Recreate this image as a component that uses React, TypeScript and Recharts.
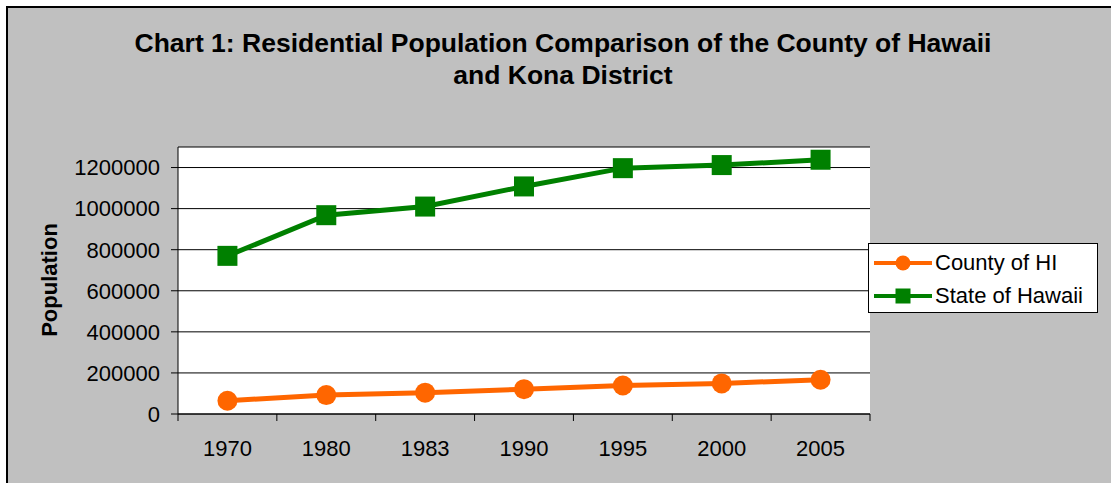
import { LineChart, Line, XAxis, YAxis, CartesianGrid } from "recharts";

const years = ["1970", "1980", "1983", "1990", "1995", "2000", "2005"];
const countyOfHI = [64500, 92000, 104000, 121000, 139000, 149000, 167000];
const stateOfHawaii = [770000, 968000, 1010000, 1108000, 1197000, 1212000, 1238000];
const yTicks = [0, 200000, 400000, 600000, 800000, 1000000, 1200000];

const data = years.map((year, i) => ({
  year,
  county: countyOfHI[i],
  state: stateOfHawaii[i],
}));

const FONT = "'Liberation Sans', Arial, sans-serif";
const ORANGE = "#FF6600";
const GREEN = "#008000";

const W = 1111;
const H = 483;
const PLOT_LEFT = 178;
const PLOT_RIGHT = 870;
const PLOT_TOP = 147;
const PLOT_BOTTOM = 414;
const HALF_BAND = (PLOT_RIGHT - PLOT_LEFT) / years.length / 2;

/** Category label centred in its band, tick marks on the band edges (Excel style). */
function YearTick(props: any) {
  const { x, y, payload, index } = props;
  const last = index === years.length - 1;
  return (
    <g>
      <line x1={x - HALF_BAND} y1={y} x2={x - HALF_BAND} y2={y + 7} stroke="#000" />
      {last && <line x1={x + HALF_BAND} y1={y} x2={x + HALF_BAND} y2={y + 7} stroke="#000" />}
      <text x={x} y={y + 42} textAnchor="middle" fontSize={22} fontFamily={FONT} fill="#000">
        {payload.value}
      </text>
    </g>
  );
}

function SquareDot(props: any) {
  const { cx, cy } = props;
  if (cx == null || cy == null) return null;
  return <rect x={cx - 10} y={cy - 10} width={20} height={20} fill={GREEN} />;
}

function CircleDot(props: any) {
  const { cx, cy } = props;
  if (cx == null || cy == null) return null;
  return <circle cx={cx} cy={cy} r={10} fill={ORANGE} />;
}

function LegendBox() {
  const items = [
    { name: "County of HI", color: ORANGE, shape: "circle" },
    { name: "State of Hawaii", color: GREEN, shape: "square" },
  ];
  return (
    <div
      style={{
        position: "absolute",
        left: 868,
        top: 243,
        width: 228,
        height: 68,
        background: "#fff",
        border: "1px solid #000",
        fontFamily: FONT,
        fontSize: 22,
        color: "#000",
      }}
    >
      {items.map((it, i) => (
        <div
          key={it.name}
          style={{ display: "flex", alignItems: "center", height: 33, marginTop: i === 0 ? 2 : 0 }}
        >
          <svg width={66} height={22} style={{ display: "block" }}>
            <line x1={5} y1={11} x2={63} y2={11} stroke={it.color} strokeWidth={4} />
            {it.shape === "circle" ? (
              <circle cx={34} cy={11} r={7.5} fill={it.color} />
            ) : (
              <rect x={26.5} y={3.5} width={15} height={15} fill={it.color} />
            )}
          </svg>
          <span style={{ lineHeight: "22px" }}>{it.name}</span>
        </div>
      ))}
    </div>
  );
}

export default function App() {
  return (
    <div
      style={{
        position: "absolute",
        left: 0,
        top: 0,
        width: W,
        height: H,
        background: "#fff",
        overflow: "hidden",
      }}
    >
      {/* chart area frame; right/bottom edges fall outside the picture */}
      <div
        style={{
          position: "absolute",
          left: 6,
          top: 6,
          width: 1300,
          height: 700,
          background: "#C0C0C0",
          border: "2px solid #000",
        }}
      />

      <div
        style={{
          position: "absolute",
          left: 0,
          top: 0,
          width: 1126,
          textAlign: "center",
          fontFamily: FONT,
          fontWeight: "bold",
          fontSize: 26.5,
          lineHeight: "32px",
          paddingTop: 27,
          color: "#000",
        }}
      >
        Chart 1: Residential Population Comparison of the County of Hawaii
        <br />
        and Kona District
      </div>

      <div style={{ position: "absolute", left: 0, top: 0 }}>
        <LineChart
          width={W}
          height={H}
          data={data}
          margin={{ top: PLOT_TOP, right: W - PLOT_RIGHT, bottom: H - PLOT_BOTTOM - 40, left: PLOT_LEFT - 100 }}
        >
          <CartesianGrid vertical={false} stroke="#000" fill="#fff" fillOpacity={1} />
          <XAxis
            dataKey="year"
            scale="band"
            height={40}
            axisLine={{ stroke: "#000" }}
            tickLine={false}
            tickSize={0}
            tickMargin={0}
            interval={0}
            tick={<YearTick />}
          />
          <YAxis
            width={100}
            domain={[0, 1300000]}
            ticks={yTicks}
            interval={0}
            allowDataOverflow
            axisLine={{ stroke: "#000" }}
            tickLine={{ stroke: "#000" }}
            tickSize={7}
            tickMargin={11}
            tick={{ fontSize: 22, fontFamily: FONT, fill: "#000" }}
            label={{
              content: () => (
                <text
                  x={49}
                  y={280}
                  transform="rotate(-90 49 280)"
                  textAnchor="middle"
                  dominantBaseline="central"
                  fontSize={22}
                  fontWeight="bold"
                  fontFamily={FONT}
                  fill="#000"
                >
                  Population
                </text>
              ),
            }}
          />
          <Line
            dataKey="county"
            name="County of HI"
            stroke={ORANGE}
            strokeWidth={5}
            dot={<CircleDot />}
            activeDot={false}
            isAnimationActive={false}
          />
          <Line
            dataKey="state"
            name="State of Hawaii"
            stroke={GREEN}
            strokeWidth={5}
            dot={<SquareDot />}
            activeDot={false}
            isAnimationActive={false}
          />
        </LineChart>
      </div>

      <LegendBox />
    </div>
  );
}
